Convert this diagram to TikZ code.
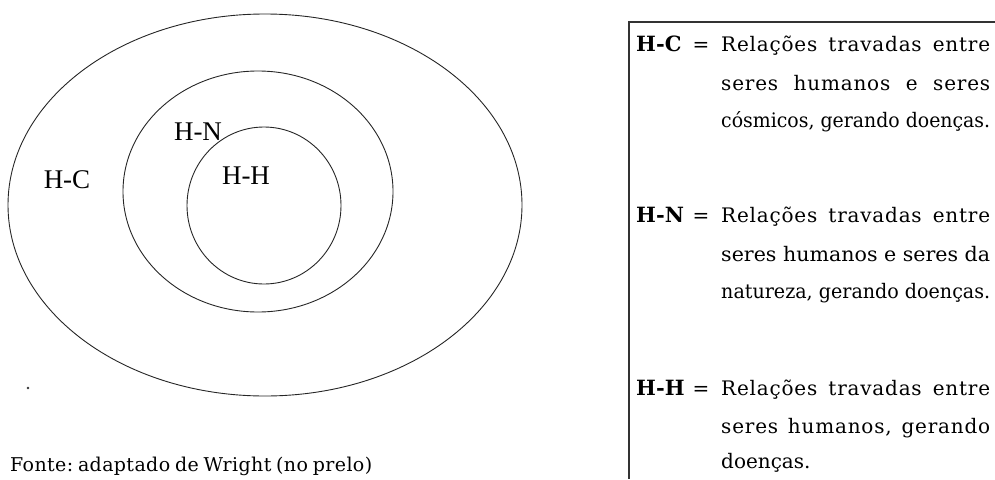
\documentclass[tikz,border=0pt]{standalone}
\usepackage{graphicx}
\usepackage{fontspec}
\setmainfont{DejaVu Serif}
\newfontfamily\lblfont{Liberation Serif}
\newfontfamily\spfont[LetterSpace=4]{DejaVu Serif}
\newfontfamily\plfont{DejaVu Serif}
\newfontfamily\fontefont[LetterSpace=2]{DejaVu Serif}
\newcommand{\spl}[1]{\makebox[269pt][s]{\spfont #1}}
\newcommand{\pll}[1]{\resizebox{269pt}{\height}{\plfont #1}}
\frenchspacing
\begin{document}
\begin{tikzpicture}[x=1pt,y=-1pt,
  ring/.style={draw=black!85,line width=0.9pt},
  lbl/.style={inner sep=0pt,anchor=base,font=\lblfont\fontsize{27}{27}\selectfont},
  key/.style={inner sep=0pt,anchor=base west,font=\bfseries\fontsize{21}{21}\selectfont},
  eqs/.style={inner sep=0pt,anchor=base,font=\fontsize{20}{20}\selectfont},
  desc/.style={inner sep=0pt,anchor=base west,font=\fontsize{20}{20}\selectfont},
  frame/.style={draw=black!80,line width=1.3pt}]
\useasboundingbox (0,0) rectangle (995,479);
% ellipses
\draw[ring] (265,205) ellipse [x radius=257, y radius=191];
\draw[ring] (258,191.5) ellipse [x radius=135, y radius=120.5];
\draw[ring] (264,205.5) ellipse [x radius=77, y radius=78.5];
\node[lbl] (hc) at (67,188) {H-C};
\node[lbl] (hn) at (198,140) {H-N};
\node[lbl] (hh) at (246,184) {H-H};
\fill[black!80] (28,388) circle (1.3);
\node[inner sep=0pt,anchor=base west,font=\fontsize{19}{19}\selectfont] (fonte) at (10,471)
  {\makebox[362pt][s]{\fontefont Fonte: adaptado de Wright (no prelo)}};
% legend frame
\coordinate (tl) at (629,22);
\coordinate (tr) at (995,22);
\coordinate (bl) at (629,479);
\draw[frame] (tr) -- (tl) -- (bl);
% block 1
\node[key] (k1) at (636,51) {H-C};
\node[eqs] (e1) at (701,51) {=};
\node[desc] (d11) at (721,51) {\spl{Relações travadas entre}};
\node[desc] (d12) at (721,90) {\spl{seres humanos e seres}};
\node[desc] (d13) at (721,127) {\pll{cósmicos, gerando doenças.}};
% block 2
\node[key] (k2) at (636,222) {H-N};
\node[eqs] (e2) at (701,222) {=};
\node[desc] (d21) at (721,222) {\spl{Relações travadas entre}};
\node[desc] (d22) at (721,261) {\pll{seres humanos e seres da}};
\node[desc] (d23) at (721,298) {\pll{natureza, gerando doenças.}};
% block 3
\node[key] (k3) at (636,395) {H-H};
\node[eqs] (e3) at (701,395) {=};
\node[desc] (d31) at (721,395) {\spl{Relações travadas entre}};
\node[desc] (d32) at (721,433) {\spl{seres humanos, gerando}};
\node[desc] (d33) at (721,468) {\plfont doenças.};
\end{tikzpicture}
\end{document}
